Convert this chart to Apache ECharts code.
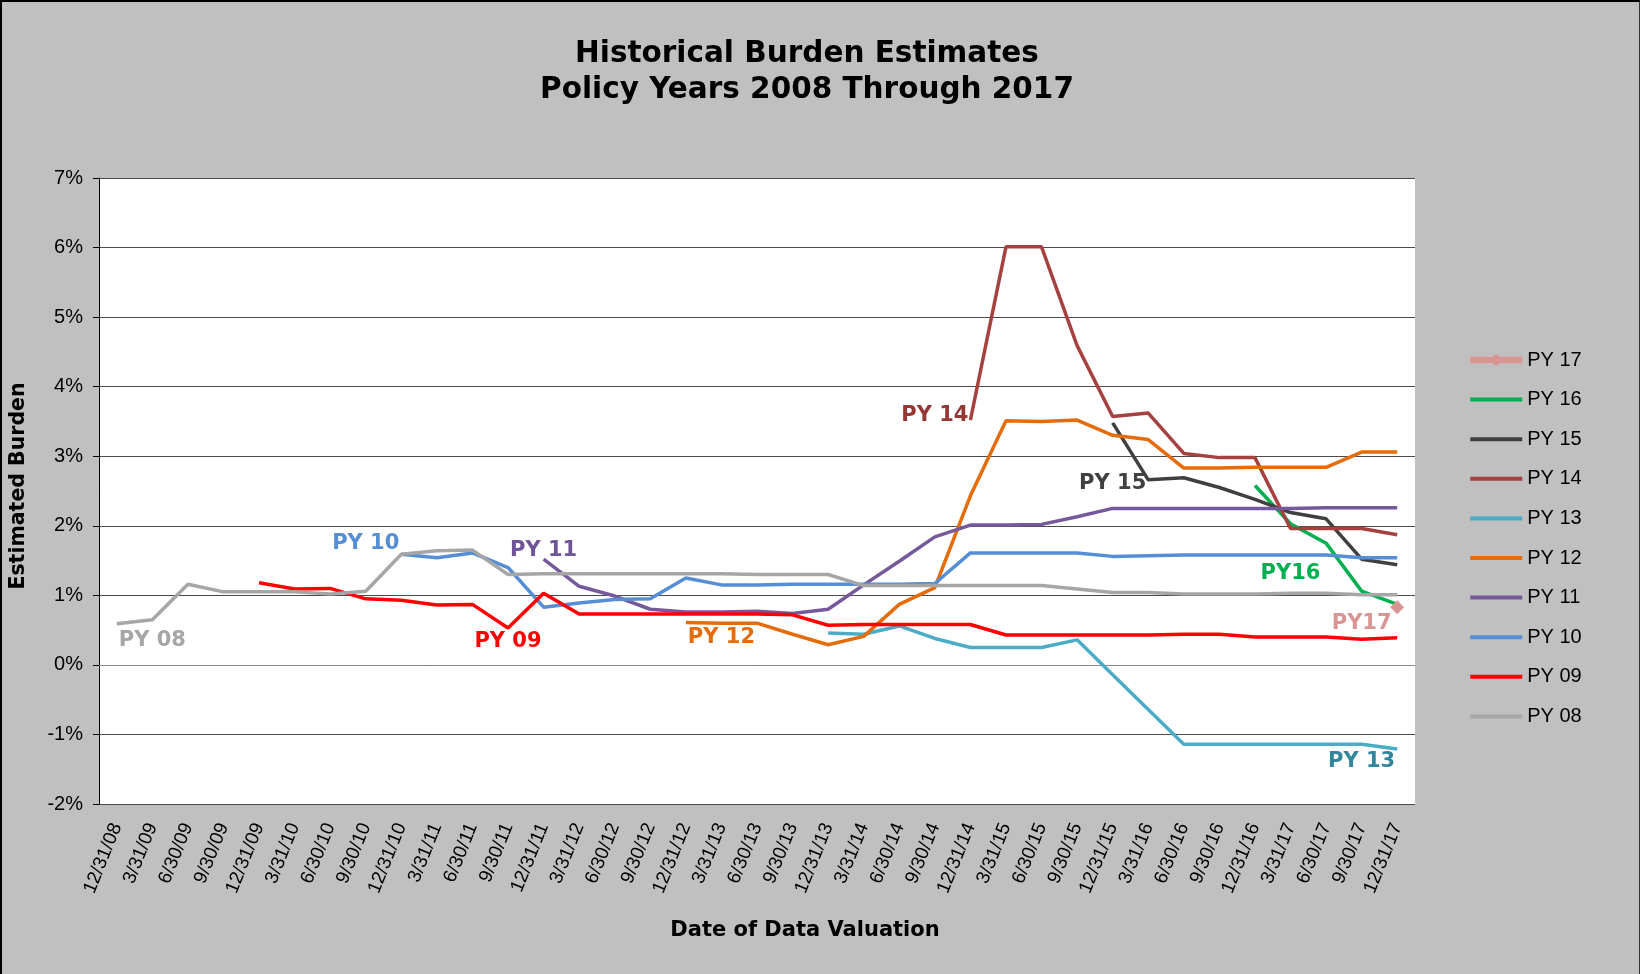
<!DOCTYPE html>
<html><head><meta charset="utf-8">
<script src="https://cdn.jsdelivr.net/npm/echarts@6/dist/echarts.min.js"></script>
<style>
html,body{margin:0;padding:0;background:#c0c0c0}
#wrap{position:relative;width:1640px;height:974px}
#c{position:absolute;left:0;top:0;width:1640px;height:974px}
#frame{position:absolute;left:0;top:0;width:1640px;height:974px;box-sizing:border-box;border-top:2px solid #000;border-left:2px solid #000;border-right:1px solid #333;pointer-events:none}
</style>
</head><body><div id="wrap"><div id="c"></div><div id="frame"></div></div>
<script>
const categories = ['12/31/08','3/31/09','6/30/09','9/30/09','12/31/09','3/31/10','6/30/10','9/30/10','12/31/10','3/31/11','6/30/11','9/30/11','12/31/11','3/31/12','6/30/12','9/30/12','12/31/12','3/31/13','6/30/13','9/30/13','12/31/13','3/31/14','6/30/14','9/30/14','12/31/14','3/31/15','6/30/15','9/30/15','12/31/15','3/31/16','6/30/16','9/30/16','12/31/16','3/31/17','6/30/17','9/30/17','12/31/17'];
const _ = null;
const py08 = [0.59,0.65,1.16,1.05,1.05,1.05,1.02,1.06,1.59,1.64,1.65,1.30,1.31,1.31,1.31,1.31,1.31,1.31,1.30,1.30,1.30,1.14,1.14,1.14,1.14,1.14,1.14,1.09,1.04,1.04,1.02,1.02,1.02,1.03,1.03,1.01,1.01];
const py09 = [_,_,_,_,1.18,1.09,1.10,0.95,0.93,0.86,0.87,0.53,1.03,0.73,0.73,0.73,0.73,0.73,0.73,0.72,0.57,0.58,0.58,0.58,0.58,0.43,0.43,0.43,0.43,0.43,0.44,0.44,0.40,0.40,0.40,0.37,0.39];
const py10 = [_,_,_,_,_,_,_,_,1.59,1.54,1.61,1.40,0.83,0.89,0.94,0.95,1.25,1.15,1.15,1.16,1.16,1.16,1.16,1.17,1.61,1.61,1.61,1.61,1.56,1.57,1.58,1.58,1.58,1.58,1.58,1.54,1.54];
const py11 = [_,_,_,_,_,_,_,_,_,_,_,_,1.52,1.13,0.99,0.80,0.76,0.76,0.77,0.74,0.80,1.15,1.49,1.84,2.01,2.01,2.02,2.13,2.25,2.25,2.25,2.25,2.25,2.25,2.26,2.26,2.26];
const py12 = [_,_,_,_,_,_,_,_,_,_,_,_,_,_,_,_,0.61,0.60,0.60,0.44,0.29,0.41,0.87,1.11,2.43,3.51,3.50,3.52,3.30,3.24,2.83,2.83,2.84,2.84,2.84,3.06,3.06];
const py13 = [_,_,_,_,_,_,_,_,_,_,_,_,_,_,_,_,_,_,_,_,0.46,0.44,0.56,0.38,0.25,0.25,0.25,0.36,-0.14,-0.64,-1.14,-1.14,-1.14,-1.14,-1.14,-1.14,-1.21];
const py14 = [_,_,_,_,_,_,_,_,_,_,_,_,_,_,_,_,_,_,_,_,_,_,_,_,3.52,6.01,6.01,4.59,3.57,3.62,3.04,2.98,2.98,1.96,1.96,1.96,1.87];
const py15 = [_,_,_,_,_,_,_,_,_,_,_,_,_,_,_,_,_,_,_,_,_,_,_,_,_,_,_,_,3.48,2.66,2.69,2.55,2.38,2.19,2.10,1.52,1.44];
const py16 = [_,_,_,_,_,_,_,_,_,_,_,_,_,_,_,_,_,_,_,_,_,_,_,_,_,_,_,_,_,_,_,_,2.58,2.03,1.75,1.06,0.87];
const py17 = [_,_,_,_,_,_,_,_,_,_,_,_,_,_,_,_,_,_,_,_,_,_,_,_,_,_,_,_,_,_,_,_,_,_,_,_,0.83];
const yTicks = [-2,-1,0,1,2,3,4,5,6,7];

// annotation labels: [text, category position, value]
const seriesDefs = [
  {name:'PY 17', data:py17, color:'#D99594', label:['PY17',34.92,0.59], labelColor:'#D99594', symbol:'diamond'},
  {name:'PY 16', data:py16, color:'#00B050', label:['PY16',33.46,1.31], labelColor:'#00B050'},
  {name:'PY 15', data:py15, color:'#404040', label:['PY 15',27.66,2.61], labelColor:'#404040'},
  {name:'PY 14', data:py14, color:'#A5413F', label:['PY 14',22.88,3.59], labelColor:'#953735'},
  {name:'PY 13', data:py13, color:'#4BACC6', label:['PY 13',34.66,-1.39], labelColor:'#31859C'},
  {name:'PY 12', data:py12, color:'#E46C0A', label:['PY 12',16.64,0.39], labelColor:'#E46C0A'},
  {name:'PY 11', data:py11, color:'#76599A', label:['PY 11',12.09,1.64], labelColor:'#6F5497'},
  {name:'PY 10', data:py10, color:'#558ED5', label:['PY 10',6.89,1.74], labelColor:'#558ED5'},
  {name:'PY 09', data:py09, color:'#FF0000', label:['PY 09',11.05,0.33], labelColor:'#FF0000'},
  {name:'PY 08', data:py08, color:'#A6A6A6', label:['PY 08',0.70,0.345], labelColor:'#A6A6A6'}
];

const chart = echarts.init(document.getElementById('c'), null, {renderer:'canvas', width:1640, height:974});
const series = seriesDefs.map(d => ({
  name: d.name,
  type: 'line',
  data: d.data,
  connectNulls: false,
  symbol: d.symbol || 'none',
  symbolSize: d.symbol ? 14 : 0,
  showSymbol: !!d.symbol,
  itemStyle: {color: d.color},
  lineStyle: {color: d.color, width: d.symbol ? 5.5 : 3.5},
  emphasis: {disabled: true},
  animation: false,
  markPoint: {
    symbol: 'circle', symbolSize: 1,
    itemStyle: {color: 'rgba(0,0,0,0)'},
    animation: false,
    label: {show: true, position: 'inside', formatter: d.label[0], color: d.labelColor,
            fontFamily: 'DejaVu Sans', fontWeight: 'bold', fontSize: 21},
    data: [{coord: [d.label[1], d.label[2]], value: 0}]
  }
}));

chart.setOption({
  backgroundColor: '#c0c0c0',
  animation: false,
  title: {
    text: 'Historical Burden Estimates\nPolicy Years 2008 Through 2017',
    left: 802, top: 31, textAlign: 'center',
    textStyle: {fontFamily: 'DejaVu Sans', fontWeight: 'bold', fontSize: 29.5, lineHeight: 36, color: '#000'}
  },
  legend: {
    orient: 'vertical', left: 1462, top: 345,
    itemWidth: 52, itemHeight: 16, itemGap: 19.6,
    textStyle: {fontFamily: 'Liberation Sans', fontSize: 20, color: '#000'},
    data: seriesDefs.map(d => d.symbol
      ? {name: d.name, lineStyle: {width: 6.5}}
      : {name: d.name, itemStyle: {opacity: 0}, lineStyle: {width: 4}})
  },
  grid: {left: 99, right: 225, top: 178, bottom: 170, show: true, backgroundColor: '#ffffff', borderWidth: 0, containLabel: false},
  xAxis: {
    type: 'category', data: categories, boundaryGap: true,
    name: 'Date of Data Valuation', nameLocation: 'middle', nameGap: 116,
    nameTextStyle: {fontFamily: 'DejaVu Sans', fontWeight: 'bold', fontSize: 21, color: '#000', padding: [0,0,0,96]},
    axisLine: {show: true, lineStyle: {color: '#888', width: 1}},
    axisTick: {show: false},
    axisLabel: {rotate: 68, interval: 0, margin: 20, fontFamily: 'Liberation Sans', fontSize: 19, color: '#000'},
    splitLine: {show: false}
  },
  yAxis: {
    type: 'value', min: yTicks[0], max: yTicks[yTicks.length-1], interval: 1,
    name: 'Estimated Burden', nameLocation: 'middle', nameGap: 70, nameRotate: 90,
    nameTextStyle: {fontFamily: 'DejaVu Sans', fontWeight: 'bold', fontSize: 20.5, color: '#000', padding: [0,0,0,10]},
    axisLine: {show: true, lineStyle: {color: '#000', width: 1}},
    axisTick: {show: true, length: 6, lineStyle: {color: '#000'}},
    axisLabel: {formatter: '{value}%', margin: 16, fontFamily: 'Liberation Sans', fontSize: 20, color: '#000'},
    splitLine: {show: true, lineStyle: {color: '#4a4a4a', width: 1}}
  },
  series: series
});
</script></body></html>
